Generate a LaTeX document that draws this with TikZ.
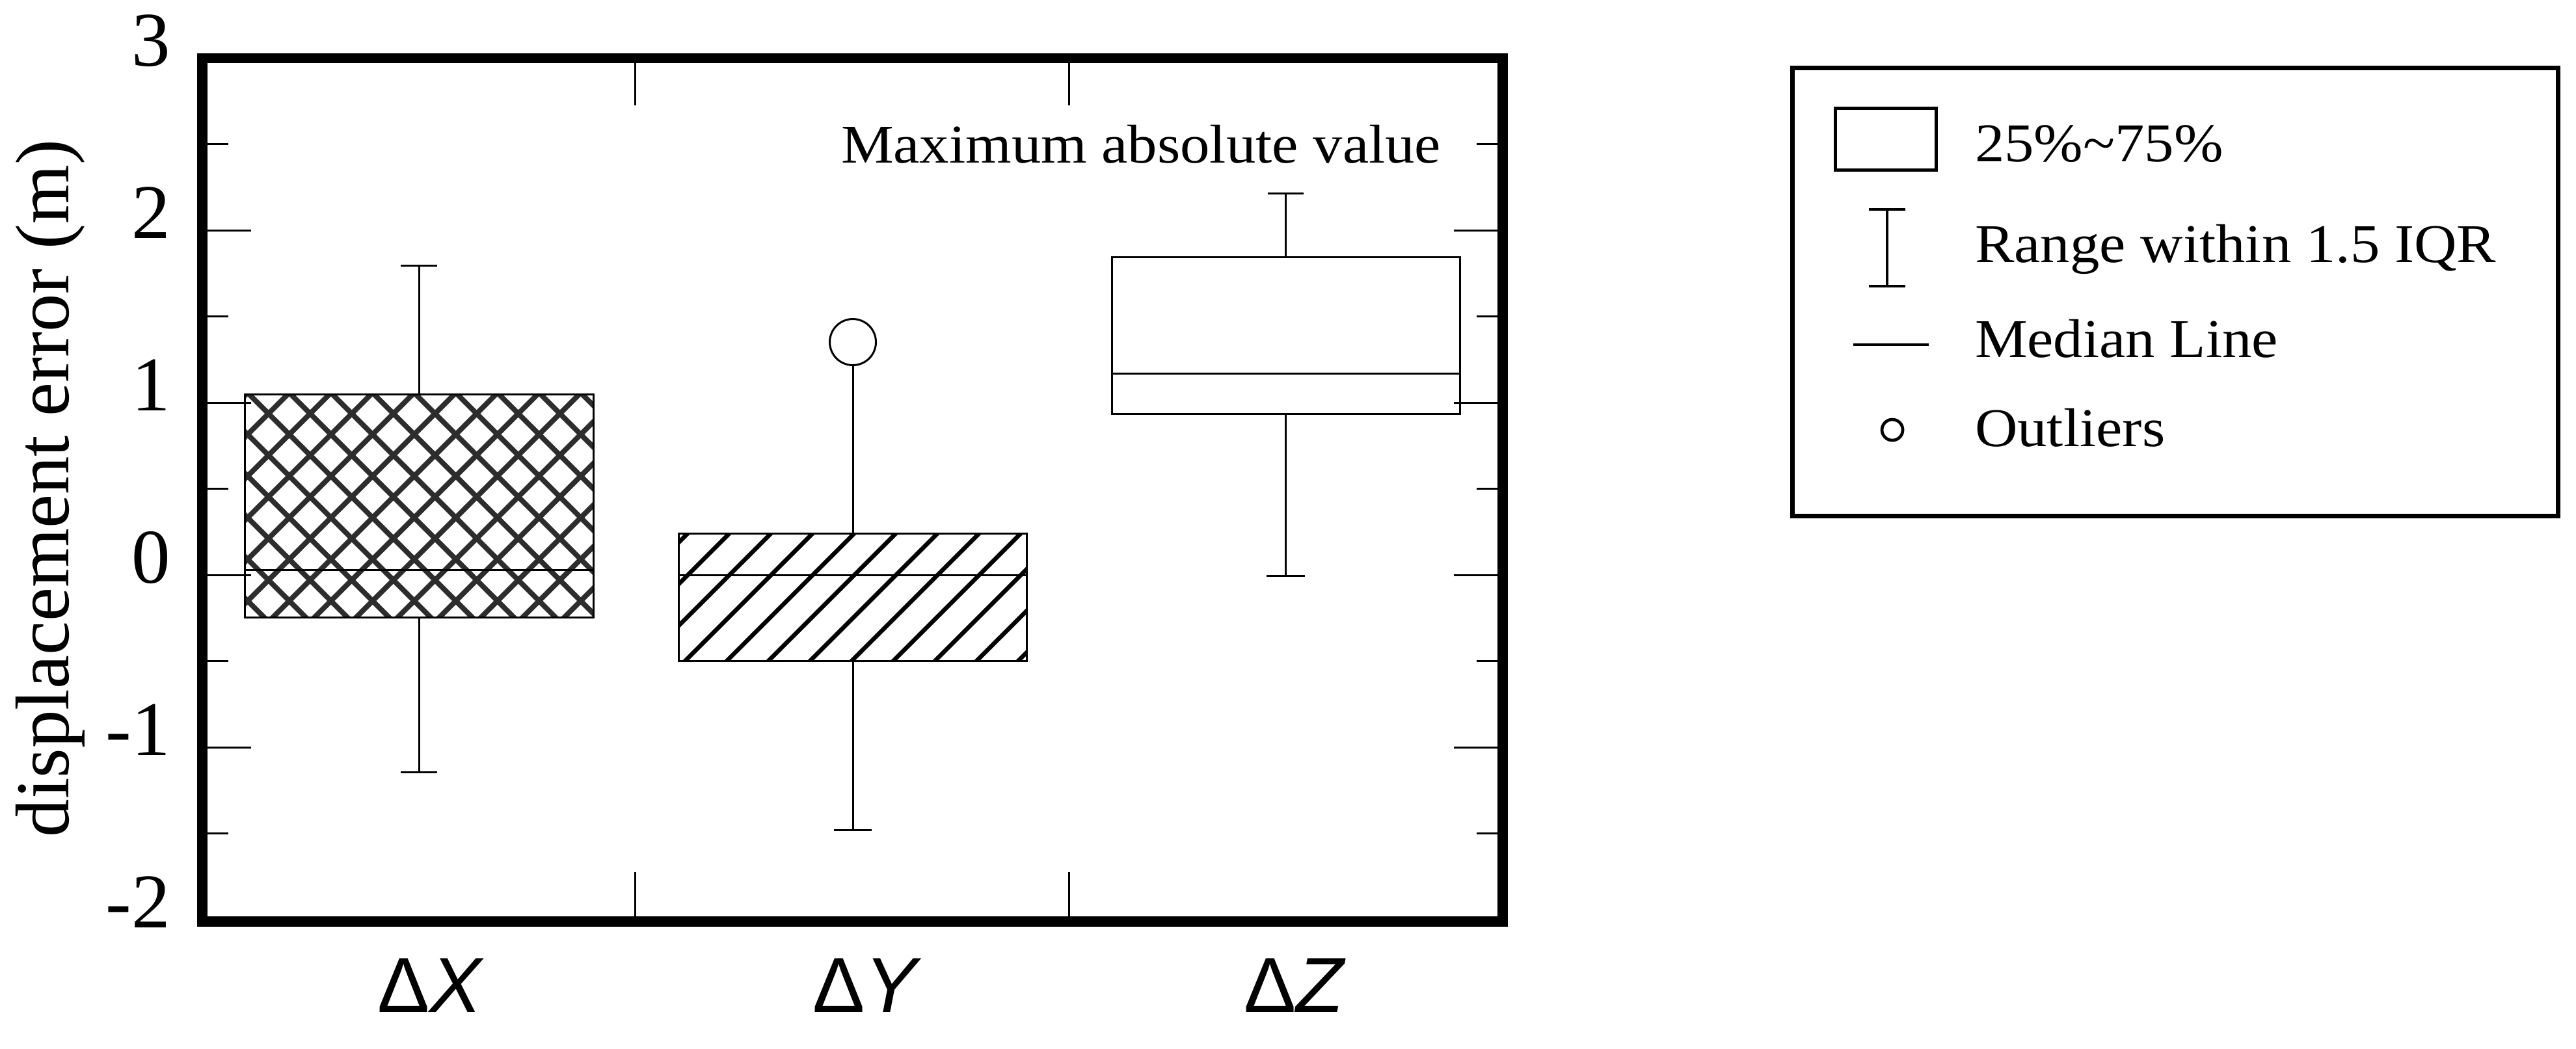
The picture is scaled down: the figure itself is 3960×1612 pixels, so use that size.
\documentclass[tikz,border=0pt]{standalone}
\usepackage{fontspec}
\setmainfont{Liberation Serif}
\newfontfamily\legfont[FakeStretch=1.08]{Liberation Serif}
\newfontfamily\catfont{Liberation Sans}
\tikzset{
  frameline/.style={line width=1.55pt, line join=miter},
  tickline/.style={line width=0.3pt},
  boxline/.style={line width=0.3pt},
  hatchX/.style={line width=0.8pt, draw={rgb,255:red,45;green,45;blue,45}},
  hatchY/.style={line width=0.65pt, draw=black},
  ticklab/.style={anchor=base east, inner sep=0pt, font=\fontsize{11.9}{14}\selectfont},
  catlab/.style={anchor=base, inner sep=0pt, font=\catfont\fontsize{12}{14}\selectfont},
  legtext/.style={anchor=base west, inner sep=0pt, font=\legfont\fontsize{8.4}{10}\selectfont},
  legline/.style={line width=0.47pt},
}
\begin{document}
\begin{tikzpicture}[x=0.1pt,y=-0.1pt]
\useasboundingbox (0,0) rectangle (3960,1612);

% ---- hatching Delta X (cross-hatch)
\begin{scope}
  \clip (376,606) rectangle (912,949);
  \foreach \k in {-2,...,13}{
    \pgfmathsetmacro\c{1048.7+64*\k}
    \draw[hatchX] ({\c-960},960) -- ({\c-595},595);
  }
  \foreach \k in {-6,...,9}{
    \pgfmathsetmacro\d{-223.3+64*\k}
    \draw[hatchX] ({\d+595},595) -- ({\d+960},960);
  }
\end{scope}
% ---- hatching Delta Y (single diagonal)
\begin{scope}
  \clip (1043,820) rectangle (1578,1016);
  \foreach \k in {-8,...,5}{
    \pgfmathsetmacro\c{2325.4+64*\k}
    \draw[hatchY] ({\c-1030},1030) -- ({\c-805},805);
  }
\end{scope}

% ---- boxes
\draw[boxline] (376,606) rectangle (912,949);
\draw[boxline] (376,876) -- (912,876);
\draw[boxline] (1043,820) rectangle (1578,1016);
\draw[boxline] (1043,884) -- (1578,884);
\draw[boxline] (1709,395) rectangle (2244,636);
\draw[boxline] (1709,574) -- (2244,574);

% ---- whiskers
\coordinate (xtop) at (644,408);
\coordinate (xbot) at (644,1187);
\draw[boxline] (644,606) -- (xtop);
\draw[boxline] (616,408) -- (672,408);
\draw[boxline] (644,949) -- (xbot);
\draw[boxline] (616,1187) -- (672,1187);

\node[draw, circle, boxline, minimum size=7.1pt, inner sep=0pt] (outlier) at (1311,526) {};
\draw[boxline] (1311,820) -- (outlier.south);
\coordinate (ybot) at (1311,1276);
\draw[boxline] (1311,1016) -- (ybot);
\draw[boxline] (1282,1276) -- (1340,1276);

\coordinate (ztop) at (1976.5,297);
\coordinate (zbot) at (1976.5,885);
\draw[boxline] (1976.5,395) -- (ztop);
\draw[boxline] (1949,297) -- (2004,297);
\draw[boxline] (1976.5,636) -- (zbot);
\draw[boxline] (1947,885) -- (2006,885);

% ---- y ticks
\foreach \v in {-2,...,3}{
  \draw[tickline] (311,{884-265*\v}) -- (386,{884-265*\v});
  \draw[tickline] (2310,{884-265*\v}) -- (2235,{884-265*\v});
}
\foreach \v in {-1.5,-0.5,0.5,1.5,2.5}{
  \draw[tickline] (311,{884-265*\v}) -- (351,{884-265*\v});
  \draw[tickline] (2310,{884-265*\v}) -- (2270,{884-265*\v});
}
% ---- x ticks
\foreach \x in {976.5,1643}{
  \draw[tickline] (\x,89) -- (\x,162);
  \draw[tickline] (\x,1417) -- (\x,1341);
}

% ---- frame
\draw[frameline] (311,89.5) rectangle (2310,1417);

% ---- tick labels
\node[ticklab] (l3) at (264,{884-265*3+12}) {3};
\node[ticklab] (l2) at (264,{884-265*2+12}) {2};
\node[ticklab] (l1) at (264,{884-265*1+12}) {1};
\node[ticklab] (l0) at (264,{884+12}) {0};
\node[ticklab] (lm1) at (264,{884+265+12}) {-1};
\node[ticklab] (lm2) at (264,{884+530+12}) {-2};

% ---- axis title
\node[anchor=base, rotate=90, inner sep=0pt, font=\fontsize{11.7}{14}\selectfont] (ytitle) at (105,751) {displacement error (m)};

% ---- category labels
\node[catlab] (cx) at (662,1556) {Δ\textit{X}};
\node[catlab] (cy) at (1333,1556) {Δ\textit{Y}};
\node[catlab] (cz) at (1991,1556) {Δ\textit{Z}};

% ---- annotation
\node[legtext] (maxabs) at (1291,250) {Maximum absolute value};

% ---- legend
\draw[line width=0.7pt] (2755.5,104.5) rectangle (3932,793);
\draw[legline] (2821.5,166.5) rectangle (2976.5,261.5);
\node[legtext] (t1) at (3034,248) {25\%\textasciitilde 75\%};
\coordinate (ebtop) at (2901,322);
\coordinate (ebbot) at (2901,440);
\draw[legline] (ebtop) -- (ebbot);
\draw[legline] (2873,322) -- (2929,322);
\draw[legline] (2873,440) -- (2929,440);
\node[legtext] (t2) at (3034,403) {Range within 1.5 IQR};
\coordinate (mla) at (2849,530);
\coordinate (mlb) at (2965,530);
\draw[legline] (mla) -- (mlb);
\node[legtext] (t3) at (3034,549) {Median Line};
\node[draw, circle, legline, minimum size=3.2pt, inner sep=0pt] (legcirc) at (2909,661) {};
\node[legtext] (t4) at (3034,686) {Outliers};
\end{tikzpicture}
\end{document}
